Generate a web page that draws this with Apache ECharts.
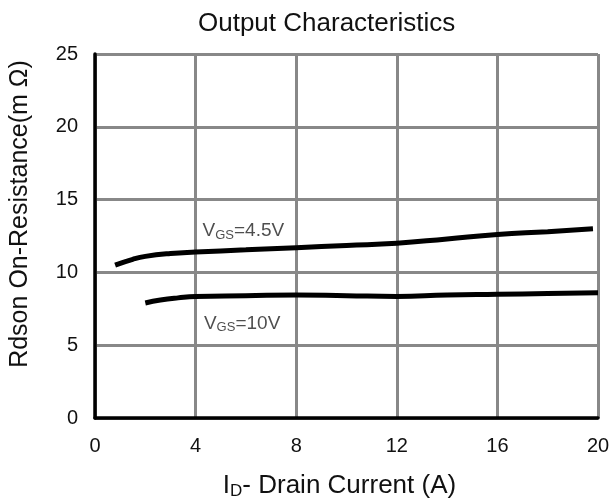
<!DOCTYPE html>
<html><head><meta charset="utf-8">
<script src="https://cdn.jsdelivr.net/npm/echarts@6/dist/echarts.min.js"></script>
<style>html,body{margin:0;padding:0;background:#fff}#c{width:611px;height:502px}</style>
</head><body><div id="c"></div>
<script>
const xTicks = [0, 4, 8, 12, 16, 20];
const yTicks = [0, 5, 10, 15, 20, 25];
const vgs45 = [[0.8,10.5],[1.5,10.9],[2,11.1],[3,11.3],[4,11.4],[6,11.55],[8,11.7],[10,11.85],[12,12.0],[14,12.3],[16,12.6],[18,12.8],[19.8,13.0]];
const vgs10 = [[2,7.9],[2.6,8.1],[3.3,8.25],[4,8.35],[6,8.4],[8,8.45],[10,8.4],[12,8.35],[14,8.45],[16,8.5],[18,8.55],[20,8.6]];
const labelNames = ['4.5V', '10V'];
const labelPos = [[5.9,12.85], [5.85,6.5]];

const font = 'Liberation Sans, Arial, sans-serif';
const chart = echarts.init(document.getElementById('c'), null, {renderer:'canvas'});
chart.setOption({
  animation:false,
  backgroundColor:'#fff',
  title:{text:'Output Characteristics', left:193, top:6, textStyle:{fontSize:26,fontWeight:'normal',color:'#111',fontFamily:font}},
  grid:{left:95, right:13, top:54, bottom:84, containLabel:false, outerBoundsMode:'none'},
  xAxis:{type:'value', min:xTicks[0], max:xTicks[xTicks.length-1], interval:4,
    axisLine:{show:true, onZero:false, lineStyle:{color:'#000', width:3.5}},
    axisTick:{show:false},
    axisLabel:{fontSize:20, color:'#111', margin:18, fontFamily:font},
    splitLine:{show:true, lineStyle:{color:'#888', width:3}},
    name:'{n|I}{s|D}{n|- Drain Current (A)}', nameLocation:'middle', nameGap:53,
    nameTextStyle:{padding:[0,14,0,0], rich:{n:{fontSize:26,color:'#111',fontFamily:font}, s:{fontSize:17,color:'#111',fontFamily:font,padding:[12,0,0,0]}}}},
  yAxis:{type:'value', min:yTicks[0], max:yTicks[yTicks.length-1], interval:5,
    axisLine:{show:true, onZero:false, lineStyle:{color:'#000', width:3.5}},
    axisTick:{show:false},
    axisLabel:{fontSize:20, color:'#111', margin:17, fontFamily:font},
    splitLine:{show:true, lineStyle:{color:'#888', width:3}},
    name:'Rdson On-Resistance(m Ω)', nameLocation:'middle', nameGap:62, nameRotate:90,
    nameTextStyle:{fontSize:25, color:'#111', fontFamily:font, padding:[0,0,0,44]}},
  series:[
    {type:'line', data:vgs45, smooth:true, symbol:'none', lineStyle:{color:'#000', width:5}, z:5},
    {type:'line', data:vgs10, smooth:true, symbol:'none', lineStyle:{color:'#000', width:5}, z:5},
    {type:'scatter', symbolSize:1, itemStyle:{color:'rgba(0,0,0,0)'}, z:6, silent:true,
     data: labelPos.map((p,i)=>({value:p, name:labelNames[i]})),
     label:{show:true, position:'inside', formatter:p=>'{v|V}{s|GS}{v|=' + p.name + '}',
       rich:{v:{fontSize:19,color:'#222',fontFamily:font}, s:{fontSize:13,color:'#222',fontFamily:font,padding:[9,0,0,0]}}}}
  ]
});
</script></body></html>
